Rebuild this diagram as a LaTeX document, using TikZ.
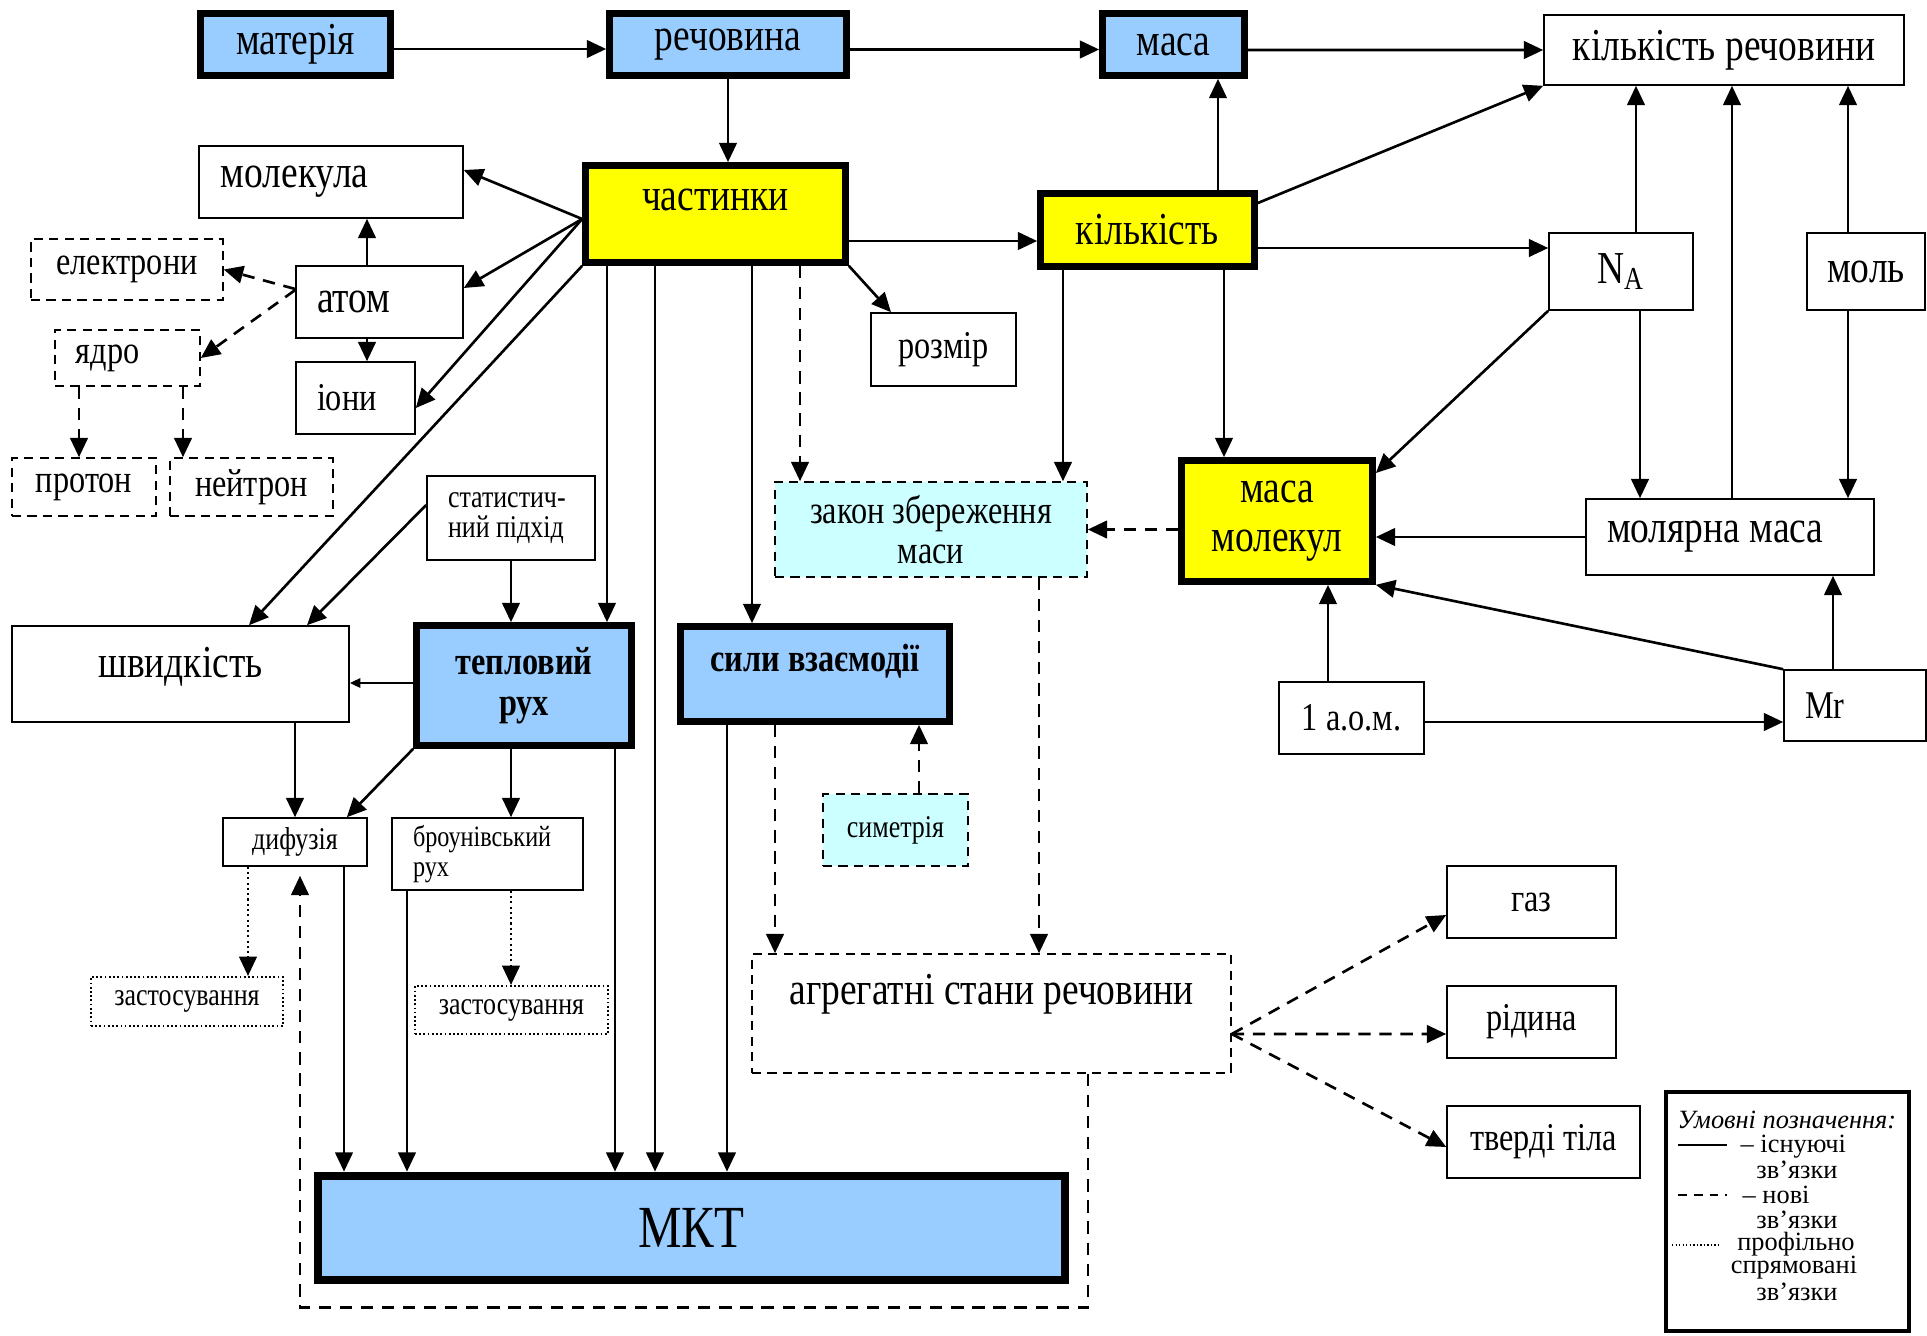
\documentclass[tikz,border=0pt]{standalone}
\usepackage{fontspec}
\setmainfont{Liberation Serif}[FakeStretch=0.82]
\newfontfamily\legfont{Liberation Serif}
\usepackage{tikz}
\usetikzlibrary{arrows.meta}

\definecolor{skyb}{HTML}{99CCFF}
\definecolor{yel}{HTML}{FFFF00}
\definecolor{lcyan}{HTML}{CCFFFF}

\newcommand{\mainsz}{\fontsize{13}{14}\selectfont}
\newcommand{\midsz}{\fontsize{11.2}{11.5}\selectfont}
\newcommand{\smallsz}{\fontsize{9}{8.5}\selectfont}
\newcommand{\legsz}{\legfont\fontsize{7.5}{7}\selectfont}

\begin{document}
\begin{tikzpicture}[
	>={Triangle[length=5.5pt,width=5pt]},
	box/.style={draw, line width=0.45pt, inner sep=0pt, font=\mainsz, align=center},
	thickbox/.style={box, line width=1.9pt},
	dbox/.style={box, dash pattern=on 2.6pt off 1.8pt},
	pbox/.style={box, line width=0.6pt, dash pattern=on 0.5pt off 0.7pt, font=\smallsz},
	lbox/.style={align=flush left, inner xsep=0.21cm},
	wh/.style 2 args={minimum width=#1cm, minimum height=#2cm},
	arr/.style={->, line width=0.75pt},
	darr/.style={->, line width=0.75pt, dash pattern=on 3.5pt off 2.5pt},
	parr/.style={->, line width=0.7pt, dash pattern=on 0.6pt off 0.9pt},
	]
	\useasboundingbox (0,0) rectangle (19.27,-13.36);
	%%%%%%%%%%%%%%%%%%%%%%%%%%%%%%%%
	\node[thickbox, fill=skyb, wh={1.90}{0.62}] (mater) at (2.955,-0.445) {матерія};
	\node[thickbox, fill=skyb, wh={2.37}{0.62}] (rech) at (7.28,-0.445) {речовина};
	\node[thickbox, fill=skyb, wh={1.42}{0.62}] (masa) at (11.735,-0.445) {маса};
	\node[box, wh={3.60}{0.70}] (kilrech) at (17.24,-0.50) {кількість речовини};
	%%%%%%%%%%%%%%%%%%%%%%%%%%%%%%%%
	\node[thickbox, fill=yel, wh={2.60}{0.97}, text depth=0.28cm] (chast) at (7.155,-2.14) {частинки};
	\node[box, lbox, text width=2.20cm, wh={2.64}{0.72}] (molek) at (3.31,-1.82) {молекула};
	\node[dbox, font=\midsz, wh={1.92}{0.61}] (elek) at (1.27,-2.695) {електрони};
	\node[box, lbox, text width=1.25cm, wh={1.67}{0.72}] (atom) at (3.795,-3.02) {атом};
	\node[dbox, lbox, font=\midsz, text width=1.03cm, wh={1.45}{0.56}] (yadro) at (1.275,-3.58) {ядро};
	\node[box, lbox, font=\midsz, text width=0.77cm, wh={1.19}{0.72}] (ioni) at (3.555,-3.98) {іони};
	\node[dbox, font=\midsz, wh={1.44}{0.58}] (proton) at (0.84,-4.87) {протон};
	\node[dbox, font=\midsz, wh={1.63}{0.58}] (neutron) at (2.515,-4.87) {нейтрон};
	\node[box, font=\midsz, wh={1.45}{0.73}] (rozmir) at (9.435,-3.495) {розмір};
	\node[thickbox, fill=yel, wh={2.14}{0.73}] (kilk) at (11.475,-2.30) {кількість};
	\node[box, wh={1.44}{0.77}] (NA) at (16.21,-2.715) {N\textsubscript{A}};
	\node[box, wh={1.18}{0.77}] (mol) at (18.66,-2.715) {моль};
	%%%%%%%%%%%%%%%%%%%%%%%%%%%%%%%%
	\node[dbox, fill=lcyan, font=\midsz, wh={3.12}{0.95}] (zakon) at (9.31,-5.295) {закон збереження\\маси};
	\node[thickbox, fill=yel, wh={1.91}{1.21}] (masamol) at (12.77,-5.21) {маса\\молекул};
	\node[box, lbox, text width=2.46cm, wh={2.88}{0.76}] (molmasa) at (17.30,-5.37) {молярна маса};
	\node[box, lbox, font=\smallsz, text width=1.26cm, wh={1.68}{0.84}] (stat) at (5.11,-5.18) {статистич-\\ний підхід};
	\node[box, wh={3.37}{0.96}, text depth=0.24cm] (shvyd) at (1.805,-6.74) {швидкість};
	\node[thickbox, fill=skyb, wh={2.15}{1.20}, font=\midsz\bfseries] (teplo) at (5.24,-6.855) {тепловий\\рух};
	\node[thickbox, fill=skyb, wh={2.69}{0.95}, font=\midsz\bfseries, text depth=0.32cm] (syly) at (8.15,-6.74) {сили взаємодії};
	\node[box, font=\midsz, wh={1.45}{0.72}] (odin) at (13.515,-7.18) {1 а.о.м.};
	\node[box, lbox, font=\midsz, text width=1.0cm, wh={1.42}{0.71}] (Mr) at (18.55,-7.055) {Mr};
	%%%%%%%%%%%%%%%%%%%%%%%%%%%%%%%%
	\node[dbox, fill=lcyan, font=\smallsz, wh={1.45}{0.72}] (symetr) at (8.955,-8.30) {симетрія};
	\node[box, font=\smallsz, wh={1.44}{0.48}] (dyfuz) at (2.95,-8.42) {дифузія};
	\node[box, lbox, font=\fontsize{8.4}{8.5}\selectfont, text width=1.49cm, wh={1.91}{0.72}] (broun) at (4.875,-8.54) {броунівський\\рух};
	\node[pbox, wh={1.92}{0.49}] (zast1) at (1.87,-10.015) {застосування};
	\node[pbox, wh={1.93}{0.48}] (zast2) at (5.115,-10.10) {застосування};
	\node[dbox, wh={4.79}{1.19}, text depth=0.48cm] (agreg) at (9.915,-10.135) {агрегатні стани речовини};
	\node[box, font=\midsz, wh={1.69}{0.72}] (gaz) at (15.315,-9.02) {газ};
	\node[box, font=\midsz, wh={1.69}{0.72}] (ridyna) at (15.315,-10.22) {рідина};
	\node[box, font=\midsz, wh={1.93}{0.72}] (tverdi) at (15.435,-11.42) {тверді тіла};
	%%%%%%%%%%%%%%%%%%%%%%%%%%%%%%%%
	\node[thickbox, fill=skyb, line width=1.9pt, wh={7.49}{1.06}, font=\fontsize{17}{18}\selectfont] (MKT) at (6.915,-12.28) {МКТ};
	\draw[line width=0.6pt] ([shift={(0.075,-0.075)}]MKT.north west) rectangle ([shift={(-0.075,0.075)}]MKT.south east);
	%%%%%%%%%%%%%%%%%%%%%%%%%%%%%%%%
	\draw[arr] ([yshift=-0.45mm]mater.east) -- ([yshift=-0.45mm]rech.west);
	\draw[arr] ([yshift=-0.5mm]rech.east) -- ([yshift=-0.5mm]masa.west);
	\draw[arr] ([yshift=-0.55mm]masa.east) -- (kilrech.west);
	\draw[arr] (rech.south) -- (rech.south |- chast.north);
	%%%%%%%%%%%%%%%%%%%%%%%%%%%%%%%%
	\draw[arr] ([yshift=-0.5mm]chast.west) -- ([yshift=1.2mm]molek.east);
	\draw[arr] ([yshift=-0.5mm]chast.west) -- ([yshift=1.4mm]atom.east);
	\draw[arr] ([yshift=-0.5mm]chast.west) -- ([yshift=-1mm]ioni.east);
	\draw[arr] (chast.south west) -- ([xshift=0.685cm]shvyd.north);
	\draw[arr] ([yshift=1.3mm]stat.west) -- ([xshift=1.265cm]shvyd.north);
	\draw[arr] ([xshift=-1.25mm]atom.north) -- ([xshift=-1.25mm]atom.north |- molek.south);
	\draw[arr] ([xshift=-1.25mm]atom.south) -- ([xshift=-1.25mm]atom.south |- ioni.north);
	\draw[darr] ([yshift=1.3mm]atom.west) -- (elek.east);
	\draw[darr] ([yshift=1.2mm]atom.west) -- (yadro.east);
	\draw[darr] ([xshift=-4.85mm]yadro.south) -- ([xshift=-4.85mm]yadro.south |- proton.north);
	\draw[darr] ([xshift=5.55mm]yadro.south) -- ([xshift=5.55mm]yadro.south |- neutron.north);
	\draw[arr] ([yshift=-2.7mm]chast.east) -- ([yshift=-2.7mm]chast.east -| kilk.west);
	\draw[arr] (chast.south east) -- ([xshift=-5.25mm]rozmir.north);
	\draw[arr] ([xshift=-1.085cm]chast.south) -- ([xshift=-1.085cm]chast.south |- teplo.north);
	\draw[arr] ([xshift=-0.605cm]chast.south) -- ([xshift=-0.605cm]chast.south |- MKT.north);
	\draw[arr] ([xshift=0.365cm]chast.south) -- ([xshift=0.365cm]chast.south |- syly.north);
	\draw[darr] ([xshift=0.845cm]chast.south) -- ([xshift=0.845cm]chast.south |- zakon.north);
	%%%%%%%%%%%%%%%%%%%%%%%%%%%%%%%%
	\draw[arr] ([xshift=0.705cm]kilk.north) -- ([xshift=0.705cm]kilk.north |- masa.south);
	\draw[arr] ([yshift=2.7mm]kilk.east) -- (kilrech.south west);
	\draw[arr] ([yshift=-1.8mm]kilk.east) -- ([yshift=-1.8mm]kilk.east -| NA.west);
	\draw[arr] ([xshift=-0.845cm]kilk.south) -- ([xshift=-0.845cm]kilk.south |- zakon.north);
	\draw[arr] ([xshift=0.765cm]kilk.south) -- ([xshift=0.765cm]kilk.south |- masamol.north);
	\draw[arr] ([xshift=0.15cm]NA.north) -- ([xshift=0.15cm]NA.north |- kilrech.south);
	\draw[arr] ([xshift=0.19cm]NA.south) -- ([xshift=0.19cm]NA.south |- molmasa.north);
	\draw[arr] ([xshift=0.02cm]molmasa.north) -- ([xshift=0.02cm]molmasa.north |- kilrech.south);
	\draw[arr] ([xshift=-0.18cm]mol.north) -- ([xshift=-0.18cm]mol.north |- kilrech.south);
	\draw[arr] ([xshift=-0.18cm]mol.south) -- ([xshift=-0.18cm]mol.south |- molmasa.north);
	\draw[arr] (NA.south west) -- ([yshift=4.8mm]masamol.east);
	\draw[arr] (molmasa.west) -- (molmasa.west -| masamol.east);
	\draw[darr] (masamol.west |- zakon.east) -- (zakon.east);
	\draw[arr] (Mr.north west) -- (masamol.south east);
	\draw[arr] ([xshift=-0.22cm]Mr.north) -- ([xshift=-0.22cm]Mr.north |- molmasa.south);
	\draw[arr] ([xshift=-0.235cm]odin.north) -- ([xshift=-0.235cm]odin.north |- masamol.south);
	\draw[arr] ([yshift=-0.4mm]odin.east) -- ([yshift=-0.4mm]odin.east -| Mr.west);
	%%%%%%%%%%%%%%%%%%%%%%%%%%%%%%%%
	\draw[arr] (stat.south) -- (stat.south |- teplo.north);
	\draw[->, >={Triangle[length=3pt,width=2.6pt]}, line width=0.75pt] ([yshift=0.25mm]teplo.west) -- ([yshift=0.25mm]teplo.west -| shvyd.east);
	\draw[arr] (dyfuz.north |- shvyd.south) -- (dyfuz.north);
	\draw[arr] (teplo.south west) -- ([xshift=-2.1mm]dyfuz.north east);
	\draw[arr] ([xshift=-0.13cm]teplo.south) -- ([xshift=-0.13cm]teplo.south |- broun.north);
	\draw[parr] ([xshift=-0.47cm]dyfuz.south) -- ([xshift=-0.47cm]dyfuz.south |- zast1.north);
	\draw[parr] ([xshift=0.235cm]broun.south) -- ([xshift=0.235cm]broun.south |- zast2.north);
	\draw[arr] ([xshift=0.49cm]dyfuz.south) -- ([xshift=0.49cm]dyfuz.south |- MKT.north);
	\draw[arr] ([xshift=-0.805cm]broun.south) -- ([xshift=-0.805cm]broun.south |- MKT.north);
	\draw[arr] ([xshift=0.91cm]teplo.south) -- ([xshift=0.91cm]teplo.south |- MKT.north);
	\draw[arr] ([xshift=-0.88cm]syly.south) -- ([xshift=-0.88cm]syly.south |- MKT.north);
	\draw[darr] ([xshift=-0.40cm]syly.south) -- ([xshift=-0.40cm]syly.south |- agreg.north);
	\draw[darr] ([xshift=0.235cm]symetr.north) -- ([xshift=0.235cm]symetr.north |- syly.south);
	\draw[darr] ([xshift=1.08cm]zakon.south) -- ([xshift=1.08cm]zakon.south |- agreg.north);
	%%%%%%%%%%%%%%%%%%%%%%%%%%%%%%%%
	\coordinate (agrR) at ([yshift=-2.05mm]agreg.east);
	\draw[darr] (agrR) -- ([yshift=-1.3mm]gaz.west);
	\draw[darr] (agrR) -- ([yshift=-1.2mm]ridyna.west);
	\draw[darr] (agrR) -- ([yshift=-0.5mm]tverdi.west);
	\draw[darr, shorten >=0.9mm] ([xshift=0.965cm]agreg.south) -- ++(0,-2.34) -| ([xshift=0.05cm]dyfuz.south);
	%%%%%%%%%%%%%%%%%%%%%%%%%%%%%%%%
	\node[draw, line width=1.3pt, wh={2.43}{2.39}] (legend) at (17.875,-12.115) {};
	\draw[line width=0.5pt] (16.78,-11.45) -- (17.27,-11.45);
	\draw[line width=0.5pt, dash pattern=on 2.5pt off 2pt] (16.78,-11.95) -- (17.27,-11.95);
	\draw[line width=0.4pt, dash pattern=on 0.4pt off 0.6pt] (16.72,-12.45) -- (17.19,-12.45);
	\node[font=\legsz\itshape, inner sep=0pt] (leg0) at (17.87,-11.20) {Умовні позначення:};
	\node[font=\legsz, anchor=west, inner sep=0pt] (leg1) at (17.40,-11.47) {– існуючі};
	\node[font=\legsz, inner sep=0pt] (leg2) at (17.97,-11.70) {зв’язки};
	\node[font=\legsz, anchor=west, inner sep=0pt] (leg3) at (17.42,-11.95) {– нові};
	\node[font=\legsz, inner sep=0pt] (leg4) at (17.97,-12.20) {зв’язки};
	\node[font=\legsz, inner sep=0pt] (leg5) at (17.96,-12.44) {профільно};
	\node[font=\legsz, inner sep=0pt] (leg6) at (17.94,-12.68) {спрямовані};
	\node[font=\legsz, inner sep=0pt] (leg7) at (17.97,-12.92) {зв’язки};
\end{tikzpicture}
\end{document}
